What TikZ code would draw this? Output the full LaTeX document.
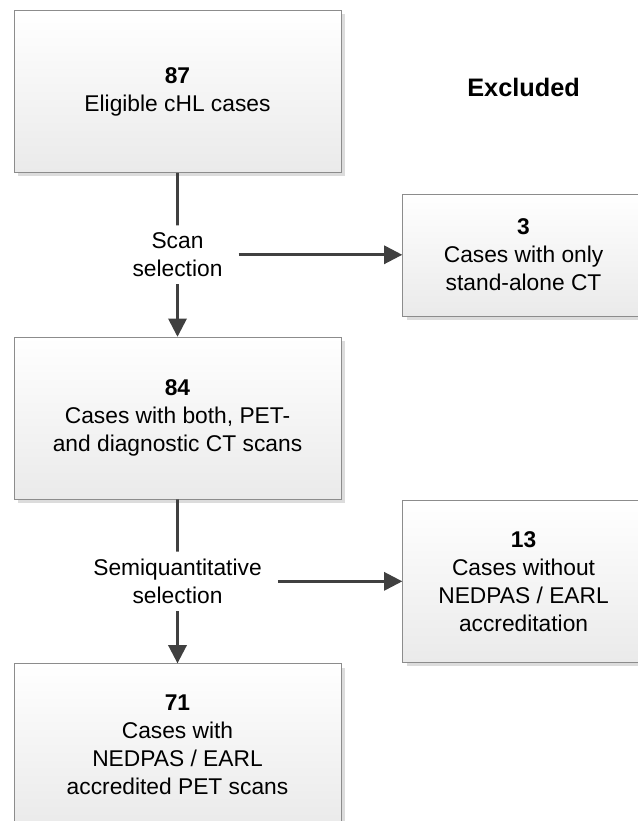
\documentclass[tikz,border=0pt]{standalone}
\usepackage{fontspec}
\setmainfont{Liberation Sans}
\usepackage{xcolor}
\usetikzlibrary{arrows.meta,positioning,calc,shadows}
\definecolor{flowline}{HTML}{404040}
\definecolor{flowedge}{HTML}{8C8C8C}
\definecolor{flowshade}{HTML}{EAEAEA}
\definecolor{flowdrop}{HTML}{DCDCDC}

\begin{document}
\begin{tikzpicture}[
  box/.style={draw=flowedge,top color=white,bottom color=flowshade,drop shadow={shadow xshift=2.8pt,shadow yshift=-2.8pt,fill=flowdrop,opacity=1},minimum width=8.175cm,minimum height=4.05cm,align=center,font=\fontsize{16.2}{19.9}\selectfont,inner sep=3pt},
  exbox/.style={box,minimum width=6.05cm},
  lbl/.style={align=center,font=\fontsize{16.2}{19.9}\selectfont,inner xsep=0.4cm,inner ysep=5pt},
  hd/.style={font=\fontsize{18}{22}\selectfont\bfseries,inner sep=0pt},
  link/.style={draw=flowline,line width=1.9pt},
  >={Triangle[length=13pt,width=13pt]}]
  \useasboundingbox (0,0) rectangle (15.925,-20.525);
  \node[box] (b1) at (4.4375,-2.2875) {\textbf{87}\\Eligible cHL cases};
  \node[box,below=4.1cm of b1] (b2) {\textbf{84}\\Cases with both, PET-\\and diagnostic CT scans};
  \node[box,below=4.1cm of b2] (b3) {\textbf{71}\\Cases with\\NEDPAS / EARL\\accredited PET scans};
  \node[lbl] (sel1) at ($(b1.south)!0.5!(b2.north)$) {Scan\\selection};
  \node[lbl] (sel2) at ($(b2.south)!0.5!(b3.north)$) {Semiquantitative\\selection};
  \coordinate (m1) at (b1.east |- sel1);
  \coordinate (m2) at (b2.east |- sel2);
  \node[exbox,minimum height=3.05cm,right=1.525cm of m1] (x1) {\textbf{3}\\Cases with only\\stand-alone CT};
  \node[exbox,right=1.525cm of m2] (x2) {\textbf{13}\\Cases without\\NEDPAS / EARL\\accreditation};
  \node[hd,above=2.4cm of x1] (exc) {Excluded};
  \draw[link] (b1) -- (sel1); \draw[link,->] (sel1) -- (b2);
  \draw[link] (b2) -- (sel2); \draw[link,->] (sel2) -- (b3);
  \draw[link,->] (sel1) -- (x1); \draw[link,->] (sel2) -- (x2);
\end{tikzpicture}
\end{document}
